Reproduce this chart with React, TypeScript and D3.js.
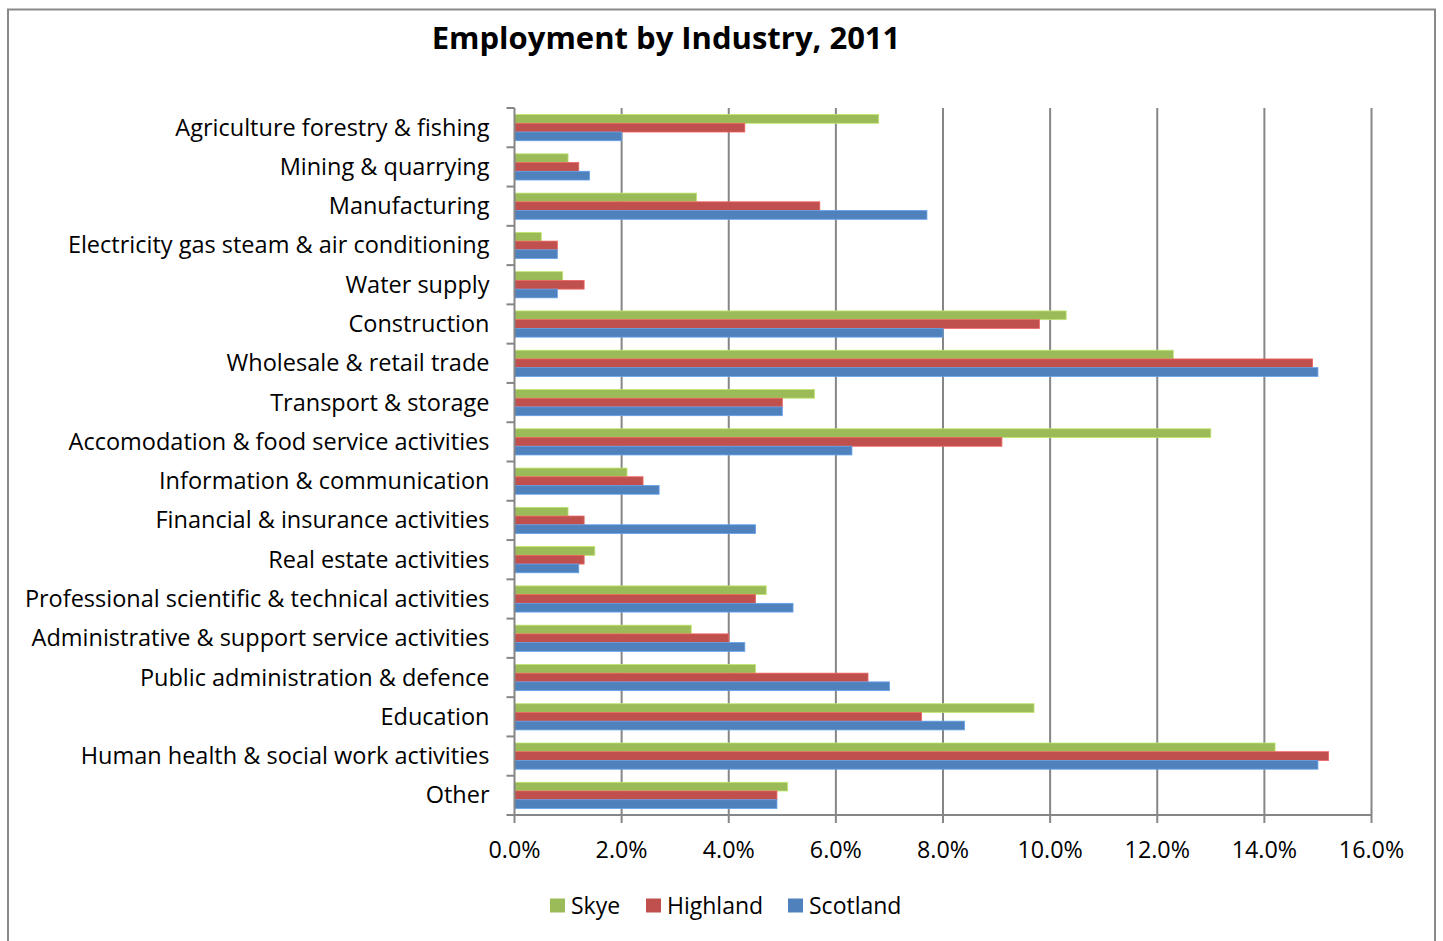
import React, { useEffect, useRef } from "react";
import * as d3 from "d3";

const categories = [
  "Agriculture forestry & fishing",
  "Mining & quarrying",
  "Manufacturing",
  "Electricity gas steam & air conditioning",
  "Water supply",
  "Construction",
  "Wholesale & retail trade",
  "Transport & storage",
  "Accomodation & food service activities",
  "Information & communication",
  "Financial & insurance activities",
  "Real estate activities",
  "Professional scientific & technical activities",
  "Administrative & support service activities",
  "Public administration & defence",
  "Education",
  "Human health & social work activities",
  "Other",
];

const skye = [6.8, 1.0, 3.4, 0.5, 0.9, 10.3, 12.3, 5.6, 13.0, 2.1, 1.0, 1.5, 4.7, 3.3, 4.5, 9.7, 14.2, 5.1];
const highland = [4.3, 1.2, 5.7, 0.8, 1.3, 9.8, 14.9, 5.0, 9.1, 2.4, 1.3, 1.3, 4.5, 4.0, 6.6, 7.6, 15.2, 4.9];
const scotland = [2.0, 1.4, 7.7, 0.8, 0.8, 8.0, 15.0, 5.0, 6.3, 2.7, 4.5, 1.2, 5.2, 4.3, 7.0, 8.4, 15.0, 4.9];

const seriesNames = ["Skye", "Highland", "Scotland"];
const seriesColors = ["#9BBB59", "#C0504D", "#4F81BD"];
const xTicks = [0, 2, 4, 6, 8, 10, 12, 14, 16];

const W = 1443;
const H = 941;
const FONT = "'Open Sans', Lato, sans-serif";

export default function App() {
  const ref = useRef<SVGSVGElement | null>(null);

  useEffect(() => {
    const svg = d3.select(ref.current);
    svg.selectAll("*").remove();

    const left = 514.5;
    const right = 1371.5;
    const top = 108;
    const bottom = 815;

    const x = d3.scaleLinear().domain([0, 16]).range([left, right]);
    const y = d3.scaleBand<string>().domain(categories).range([top, bottom]).paddingInner(0).paddingOuter(0);
    const inner = d3
      .scaleBand<string>()
      .domain(seriesNames)
      .range([y.bandwidth() / 6, (y.bandwidth() * 5) / 6]);

    // outer border
    svg
      .append("rect")
      .attr("x", 8)
      .attr("y", 9.5)
      .attr("width", 1427)
      .attr("height", 960)
      .attr("fill", "#fff")
      .attr("stroke", "#898989")
      .attr("stroke-width", 2);

    // title
    svg
      .append("text")
      .attr("x", 666)
      .attr("y", 49)
      .attr("text-anchor", "middle")
      .attr("font-family", FONT)
      .attr("font-weight", "bold")
      .attr("font-size", 31)
      .attr("fill", "#000")
      .text("Employment by Industry, 2011");

    // gridlines
    svg
      .append("g")
      .selectAll("line")
      .data(xTicks.slice(1))
      .join("line")
      .attr("x1", (d) => x(d))
      .attr("x2", (d) => x(d))
      .attr("y1", top)
      .attr("y2", bottom)
      .attr("stroke", "#868686")
      .attr("stroke-width", 2);

    // bars
    const data = [skye, highland, scotland];
    const g = svg.append("g");
    categories.forEach((c, i) => {
      seriesNames.forEach((s, k) => {
        g.append("rect")
          .attr("x", x(0))
          .attr("y", (y(c) as number) + (inner(s) as number))
          .attr("width", x(data[k][i]) - x(0))
          .attr("height", inner.bandwidth())
          .attr("fill", seriesColors[k])
          .attr("stroke", d3.color(seriesColors[k])!.brighter(0.6).formatHex())
          .attr("stroke-width", 0.8);
      });
    });

    // y axis
    const yAxisG = svg.append("g");
    yAxisG
      .append("line")
      .attr("x1", left)
      .attr("x2", left)
      .attr("y1", top)
      .attr("y2", bottom)
      .attr("stroke", "#868686")
      .attr("stroke-width", 2);
    const boundaries = d3.range(categories.length + 1).map((i) => top + i * y.step());
    yAxisG
      .selectAll("line.tick")
      .data(boundaries)
      .join("line")
      .attr("class", "tick")
      .attr("x1", left - 8)
      .attr("x2", left)
      .attr("y1", (d) => d)
      .attr("y2", (d) => d)
      .attr("stroke", "#868686")
      .attr("stroke-width", 2);
    yAxisG
      .selectAll("text")
      .data(categories)
      .join("text")
      .attr("x", left - 25)
      .attr("y", (d) => (y(d) as number) + y.bandwidth() / 2)
      .attr("dy", "0.34em")
      .attr("text-anchor", "end")
      .attr("font-family", FONT)
      .attr("font-size", 23.5)
      .attr("fill", "#000")
      .text((d) => d);

    // x axis
    const xAxisG = svg.append("g");
    xAxisG
      .append("line")
      .attr("x1", left)
      .attr("x2", right)
      .attr("y1", bottom)
      .attr("y2", bottom)
      .attr("stroke", "#868686")
      .attr("stroke-width", 2);
    xAxisG
      .selectAll("line.tick")
      .data(xTicks)
      .join("line")
      .attr("class", "tick")
      .attr("x1", (d) => x(d))
      .attr("x2", (d) => x(d))
      .attr("y1", bottom)
      .attr("y2", bottom + 8)
      .attr("stroke", "#868686")
      .attr("stroke-width", 2);
    xAxisG
      .selectAll("text")
      .data(xTicks)
      .join("text")
      .attr("x", (d) => x(d))
      .attr("y", 858)
      .attr("text-anchor", "middle")
      .attr("font-family", FONT)
      .attr("font-size", 23.3)
      .attr("fill", "#000")
      .text((d) => d3.format(".1f")(d) + "%");

    // legend
    const legendX = [550, 646, 788];
    const lg = svg.append("g");
    seriesNames.forEach((s, k) => {
      lg.append("rect")
        .attr("x", legendX[k])
        .attr("y", 898.5)
        .attr("width", 15)
        .attr("height", 14)
        .attr("fill", seriesColors[k]);
      lg.append("text")
        .attr("x", legendX[k] + 21)
        .attr("y", 913.5)
        .attr("font-family", FONT)
        .attr("font-size", 23)
        .attr("fill", "#000")
        .text(s);
    });
  }, []);

  return (
    <svg
      ref={ref}
      width={W}
      height={H}
      style={{ position: "absolute", left: 0, top: 0, background: "#fff" }}
    />
  );
}
